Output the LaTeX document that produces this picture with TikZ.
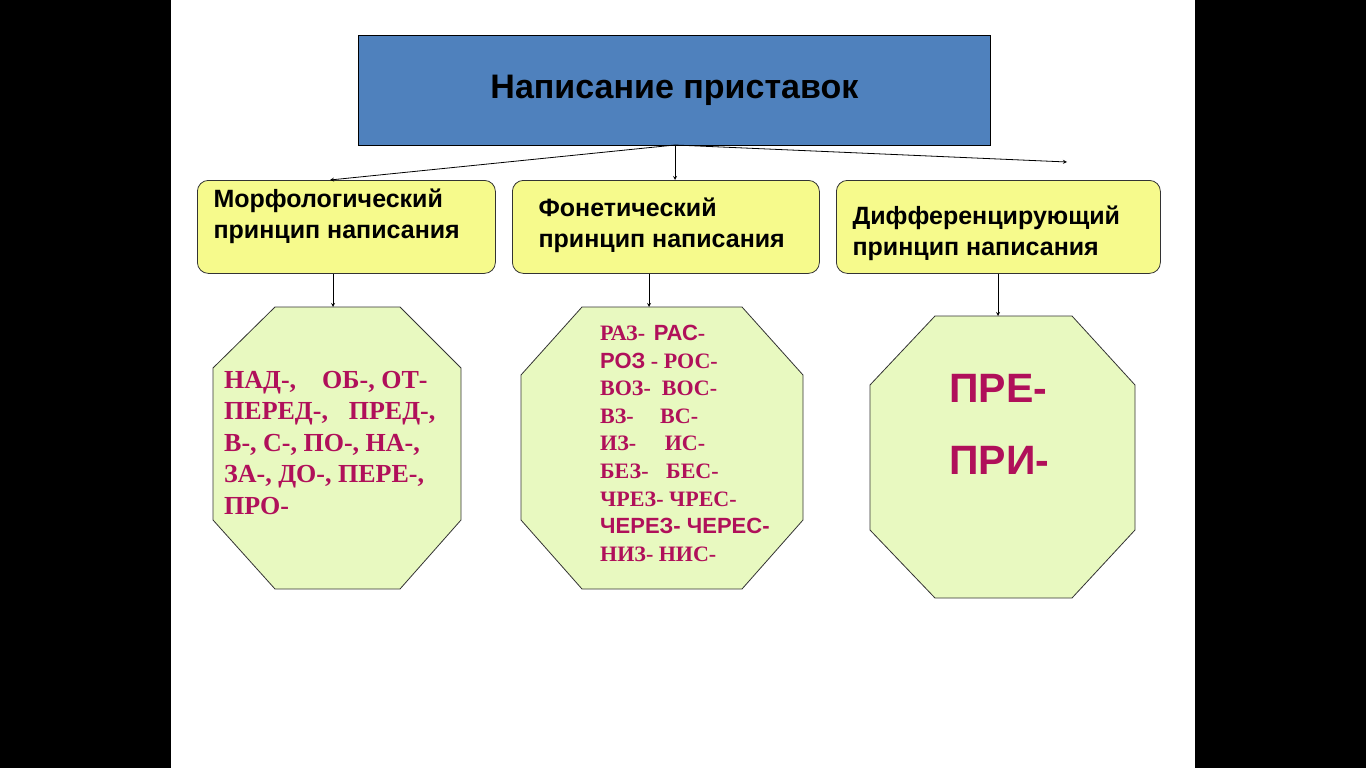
\documentclass[tikz,border=0pt]{standalone}
\usepackage{fontspec}
\setmainfont{Liberation Serif}
\setsansfont{Liberation Sans}
\definecolor{pinktxt}{RGB}{176,16,90}
\definecolor{octfill}{RGB}{232,249,192}
\definecolor{boxfill}{RGB}{246,250,140}
\begin{document}
\begin{tikzpicture}[x=1pt,y=-1pt,
  ybox/.style={draw=black!80,rounded corners=11pt,fill=boxfill,line width=0.8pt},
  oct/.style={draw=black!80,fill=octfill,line width=0.8pt},
  arr/.style={-stealth,line width=0.8pt},
  lbl/.style={font=\sffamily\bfseries\fontsize{25}{31}\selectfont,align=left,anchor=west},
  pink/.style={text=pinktxt,font=\bfseries\fontsize{26}{31.5}\selectfont,align=left,anchor=north west,inner sep=0pt}]
\fill[black] (0,0) rectangle (1366,768);
\fill[white] (171,0) rectangle (1195,768);
\useasboundingbox (0,0) rectangle (1366,768);
\node[draw=black,line width=0.8pt,fill={rgb,255:red,79;green,129;blue,189},minimum width=632pt,minimum height=110pt,anchor=north west,font=\sffamily\bfseries\fontsize{34}{40}\selectfont] (title) at (358,35) {Написание приставок};
\node[ybox,minimum width=298pt,minimum height=93pt,anchor=north west] (b1) at (197,180) {};
\node[ybox,minimum width=307pt,minimum height=93pt,anchor=north west] (b2) at (512,180) {};
\node[ybox,minimum width=324pt,minimum height=93pt,anchor=north west] (b3) at (836,180) {};
\node[lbl] (t1) at (210,216) {Морфологический\\принцип написания};
\node[lbl] (t2) at (535,225) {Фонетический\\принцип написания};
\node[lbl] (t3) at (849,233) {Дифференцирующий\\принцип написания};
\coordinate (ta) at (675,145);
\coordinate (free) at (1067,162);
\draw[arr] (ta) -- (b1.north -| 330,0);
\draw[arr] (ta) -- (b2.north -| 675,0);
\draw[arr] (ta) -- (free);
\draw[oct] (275,307) -- (400,307) -- (461,368) -- (461,520) -- (400,589) -- (275,589) -- (213,520) -- (213,368) -- cycle;
\draw[oct] (582,307) -- (742,307) -- (803,375) -- (803,520) -- (742,589) -- (582,589) -- (521,520) -- (521,375) -- cycle;
\draw[oct] (935,316) -- (1072,316) -- (1135,385) -- (1135,530) -- (1072,598) -- (935,598) -- (870,530) -- (870,385) -- cycle;
\coordinate (o1) at (333,307);
\coordinate (o2) at (649,307);
\coordinate (o3) at (998,316);
\draw[arr] (b1.south -| o1) -- (o1);
\draw[arr] (b2.south -| o2) -- (o2);
\draw[arr] (b3.south -| o3) -- (o3);
\node[pink] (m1) at (224,371) {НАД-,\hspace{1em}ОБ-, ОТ-\\ПЕРЕД-,\hspace{0.8em}ПРЕД-,\\В-, С-, ПО-, НА-,\\ЗА-, ДО-, ПЕРЕ-,\\ПРО-};
\node[pink,font=\bfseries\fontsize{22}{27.6}\selectfont] (m2) at (600,325) {РАЗ-\hspace{0.4em}{\sffamily РАС}-\\{\sffamily РОЗ} - РОС-\\ВОЗ-\hspace{0.5em}ВОС-\\ВЗ-\hspace{1.2em}ВС-\\ИЗ-\hspace{1.3em}ИС-\\БЕЗ-\hspace{0.8em}БЕС-\\ЧРЕЗ- ЧРЕС-\\{\sffamily ЧЕРЕЗ- ЧЕРЕС-}\\НИЗ- НИС-};
\node[pink,font=\sffamily\bfseries\fontsize{41}{72}\selectfont] (m3) at (949,374) {ПРЕ-\\ПРИ-};
\end{tikzpicture}
\end{document}
